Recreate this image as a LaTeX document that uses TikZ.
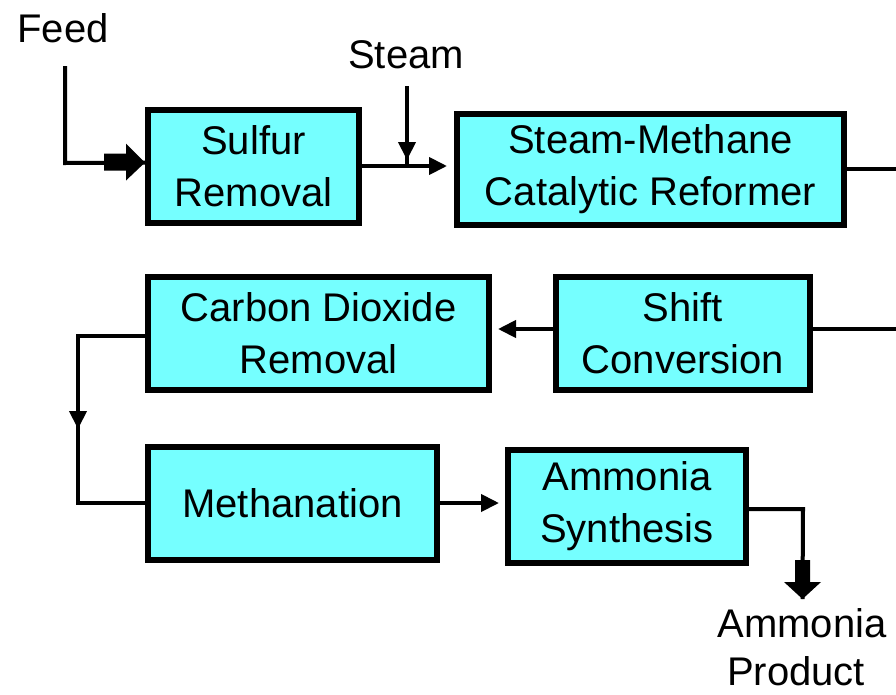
\documentclass[tikz,border=0pt]{standalone}
\usepackage{fontspec}
\setmainfont{Liberation Sans}
\usetikzlibrary{arrows.meta,decorations.markings}
\definecolor{boxcyan}{RGB}{117,255,255}
\begin{document}
\begin{tikzpicture}[x=1pt,y=-1pt,
  proc/.style={draw=black,line width=6pt,fill=boxcyan,inner sep=0pt,align=center,font=\fontsize{40}{52}\selectfont},
  lbl/.style={font=\fontsize{40}{52}\selectfont,inner sep=0pt,anchor=base},
  conn/.style={draw=black,line width=4pt},
  tip/.style={-{Triangle[width=17pt,length=18pt]}},
  midtip/.style={postaction={decorate},decoration={markings,mark=at position #1 with {\arrow{Triangle[width=17pt,length=18pt]}}}},
]
\useasboundingbox (0,0) rectangle (896,694);
% process boxes
\node[proc,minimum width=211pt,minimum height=113pt] (sulfur) at (253.5,166.5) {Sulfur\\Removal};
\node[proc,minimum width=387pt,minimum height=111pt] (refo) at (650.5,169.5) {Steam-Methane\\Catalytic Reformer};
\node[proc,minimum width=254pt,minimum height=113pt] (shift) at (683,333.5) {Shift\\Conversion};
\node[proc,minimum width=341pt,minimum height=113pt] (co2) at (318.5,333.5) {Carbon Dioxide\\Removal};
\node[proc,minimum width=289pt,minimum height=113pt] (meth) at (292.5,503.5) {Methanation};
\node[proc,minimum width=238pt,minimum height=113pt] (synth) at (627,506.5) {Ammonia\\Synthesis};
% labels
\node[lbl] (feed) at (63,42) {Feed};
\node[lbl] (steam) at (406,68) {Steam};
\node[lbl] (prod1) at (802,637) {Ammonia};
\node[lbl] (prod2) at (796,685) {Product};
% coordinates
\coordinate (f0) at (65,66);
\coordinate (f1) at (65,163);
\coordinate (ftip) at (145,162.5);
\coordinate (s0) at (407,86);
\coordinate (sj) at (407,166);
\coordinate (e1) at (896,169);
\coordinate (e2) at (896,329);
\coordinate (k1) at (78,336);
\coordinate (k2) at (78,503);
\coordinate (p1) at (803,509);
\coordinate (ptip) at (802.5,599);
% feed
\draw[conn] (f0) -- (f1) -- (ftip);
\fill (ftip) -- ++(-19,-19) -- ++(0,10) -- ++(-22,0) -- ++(0,17) -- ++(22,0) -- ++(0,10) -- cycle;
% steam
\draw[conn,midtip=74pt] (s0) -- (sj);
% sulfur -> reformer
\draw[conn,tip,shorten >=7pt] (sj -| sulfur.east) -- (sj -| refo.west);
% reformer -> right edge, shift -> right edge
\draw[conn] (e1 -| refo.east) -- (e1);
\draw[conn] (e2 -| shift.east) -- (e2);
% shift -> co2
\draw[conn,tip,shorten >=6pt] (e2 -| shift.west) -- (e2 -| co2.east);
% co2 -> methanation
\draw[conn,midtip=160pt] (k1 -| co2.west) -- (k1) -- (k2) -- (k2 -| meth.west);
% methanation -> synthesis
\draw[conn,tip,shorten >=6pt] (k2 -| meth.east) -- (k2 -| synth.west);
% synthesis -> product
\draw[conn] (p1 -| synth.east) -- (p1) -- (ptip);
\fill (ptip) -- ++(-18.5,-17) -- ++(11,0) -- ++(0,-22) -- ++(15,0) -- ++(0,22) -- ++(11,0) -- cycle;
\end{tikzpicture}
\end{document}
